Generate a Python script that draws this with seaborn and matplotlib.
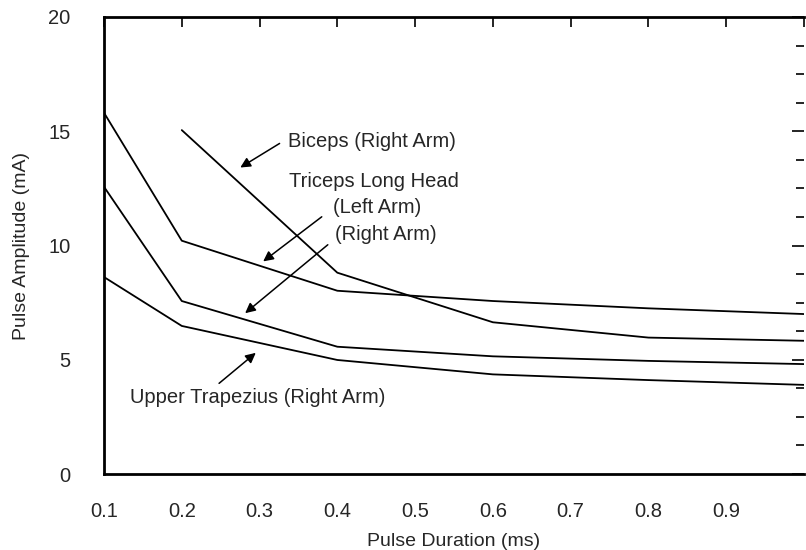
import matplotlib
matplotlib.use("Agg")
import matplotlib.pyplot as plt
from matplotlib.ticker import MultipleLocator, FixedLocator
import seaborn as sns
import pandas as pd

sns.set_style("white")
plt.rcParams['font.family'] = ['Liberation Sans', 'DejaVu Sans']

durations = [0.1, 0.2, 0.4, 0.6, 0.8, 1.0]
biceps_x = [0.2, 0.4, 0.6, 0.8, 1.0]
biceps_right = [15.05, 8.81, 6.64, 5.97, 5.83]
triceps_left = [15.81, 10.21, 8.02, 7.57, 7.25, 7.00]
triceps_right = [12.57, 7.57, 5.57, 5.15, 4.95, 4.81]
trapezius_right = [8.62, 6.48, 4.99, 4.36, 4.11, 3.90]

x_ticks = [0.1, 0.2, 0.3, 0.4, 0.5, 0.6, 0.7, 0.8, 0.9]
x_tick_labels = ["0.1", "0.2", "0.3", "0.4", "0.5", "0.6", "0.7", "0.8", "0.9"]
y_ticks = [0, 5, 10, 15, 20]

rows = []
for x, y in zip(biceps_x, biceps_right):
    rows.append(("Biceps (Right Arm)", x, y))
for name, vals in [("Triceps Long Head (Left Arm)", triceps_left),
                   ("Triceps Long Head (Right Arm)", triceps_right),
                   ("Upper Trapezius (Right Arm)", trapezius_right)]:
    for x, y in zip(durations, vals):
        rows.append((name, x, y))
df = pd.DataFrame(rows, columns=["muscle", "duration", "amplitude"])

fig = plt.figure(figsize=(8.06, 5.5), dpi=100)
ax = fig.add_axes([104/806, 76/550, 700/806, 457/550])

sns.lineplot(data=df, x="duration", y="amplitude", hue="muscle",
             palette=["black"] * 4, linewidth=1.3, legend=False, ax=ax,
             estimator=None, sort=False)

ax.set_xlim(0.1, 1.0)
ax.set_ylim(0, 20)
ax.xaxis.set_major_locator(FixedLocator(x_ticks + [1.0]))
ax.set_xticklabels(x_tick_labels + [""])
ax.set_yticks(y_ticks)
ax.yaxis.set_minor_locator(MultipleLocator(1.25))

for side in ["left", "bottom", "top"]:
    ax.spines[side].set_linewidth(2.0)
    ax.spines[side].set_color("black")
ax.spines["right"].set_visible(False)

ax.tick_params(axis="both", which="both", direction="in", top=True, right=True,
               color="black", width=1.2)
ax.tick_params(axis="y", which="major", length=9, pad=24, labelsize=14.5)
ax.tick_params(axis="y", which="minor", length=6)
ax.tick_params(axis="x", which="major", length=7, pad=20, labelsize=14.5)

ax.set_xlabel("Pulse Duration (ms)", fontsize=14, labelpad=9)
ax.set_ylabel("Pulse Amplitude (mA)", fontsize=14, labelpad=13)

fs = 14.5
arrow = dict(arrowstyle="-|>", color="black", lw=1.1, mutation_scale=15)
ax.text(0.3365, 14.53, "Biceps (Right Arm)", fontsize=fs, va="center", ha="left")
ax.annotate("", xy=(0.2722, 13.35), xytext=(0.3288, 14.53), arrowprops=arrow)
ax.text(0.3378, 12.78, "Triceps Long Head", fontsize=fs, va="center", ha="left")
ax.text(0.3943, 11.68, "(Left Arm)", fontsize=fs, va="center", ha="left")
ax.text(0.3970, 10.46, "(Right Arm)", fontsize=fs, va="center", ha="left")
ax.annotate("", xy=(0.3018, 9.23), xytext=(0.3828, 11.33), arrowprops=arrow)
ax.annotate("", xy=(0.2787, 6.96), xytext=(0.3905, 10.11), arrowprops=arrow)
ax.text(0.1334, 3.33, "Upper Trapezius (Right Arm)", fontsize=fs, va="center", ha="left")
ax.annotate("", xy=(0.2979, 5.38), xytext=(0.2452, 3.89), arrowprops=arrow)

fig.savefig("out.png", dpi=100)
